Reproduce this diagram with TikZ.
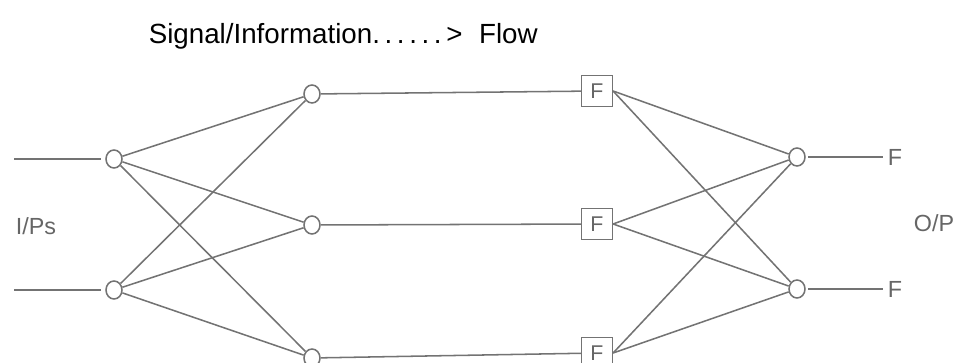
\documentclass[tikz,border=0pt]{standalone}
\usepackage{fontspec}
\setmainfont{Liberation Sans}
\usetikzlibrary{shapes.geometric}

\begin{document}
\begin{tikzpicture}[x=.75pt,y=-.75pt,line width=1.15pt,
    wire/.style={draw=gray!90!black},
    ring/.style={ellipse,draw=gray!90!black,inner sep=0pt,minimum width=12pt,minimum height=13.5pt},
    fbox/.style={draw=gray!90!black,minimum size=23pt,inner sep=0pt,text=gray!80!black,font=\fontsize{16}{16}\selectfont},
    lab/.style={text=gray!80!black,font=\fontsize{17.5}{17.5}\selectfont}]
    \clip (0,0) rectangle (962,363);
    \node[anchor=base west,inner sep=0pt,font=\fontsize{20.8}{20.8}\selectfont] (title) at (148,44)
      {Signal/Information.\,.\,.\,.\,.\,.\,>\hspace{.6em}Flow};
    \foreach \n/\y in {1/159,2/290} {
      \node[ring] (in\n) at (114,\y) {};
      \coordinate (src\n) at (14,\y);
      \draw[wire,shorten >=3pt] (src\n) -- (in\n);
    }
    \foreach \n/\y/\z in {1/94/91,2/225/224,3/358/353} {
      \node[ring] (mid\n) at (312,\y) {};
      \node[fbox] (flt\n) at (597,\z) {F};
      \draw[wire] (mid\n) -- (flt\n);
      \foreach \i in {1,2} \draw[wire] (in\i) -- (mid\n);
    }
    \foreach \n/\y in {1/157,2/289} {
      \node[ring] (out\n) at (797,\y) {};
      \node[lab,inner sep=0pt,anchor=west] (res\n) at (887,\y) {F};
      \draw[wire,shorten <=2pt,shorten >=3pt] (out\n) -- (res\n);
      \foreach \i in {1,2,3} \draw[wire] (flt\i.east) -- (out\n);
    }
    \node[lab] (ips) at (36,226) {I/Ps};
    \node[lab] (ops) at (934,223) {O/P};
  \end{tikzpicture}
\end{document}
